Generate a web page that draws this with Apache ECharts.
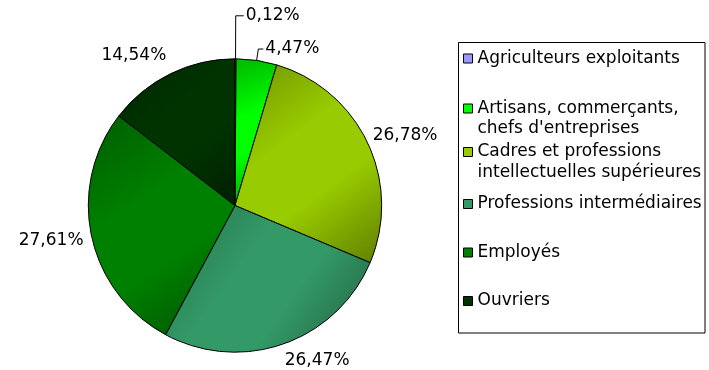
<!DOCTYPE html>
<html>
<head>
<meta charset="utf-8">
<style>
  html, body { margin: 0; padding: 0; background: #ffffff; }
  #chart { width: 709px; height: 370px; }
</style>
<script src="https://cdn.jsdelivr.net/npm/echarts@6/dist/echarts.min.js"></script>
</head>
<body>
<div id="chart"></div>
<script>
// Socio-professional categories (legend order = slice order, clockwise from 12 o'clock)
const categories = [
  'Agriculteurs exploitants',
  'Artisans, commerçants,\nchefs d\'entreprises',
  'Cadres et professions\nintellectuelles supérieures',
  'Professions intermédiaires',
  'Employés',
  'Ouvriers'
];

// Share of each category, in percent
const shares = [0.12, 4.47, 26.78, 26.47, 27.61, 14.54];

// Fill colour of each category
const sliceColors = ['#9999FF', '#00FF00', '#99CC00', '#339966', '#008000', '#003300'];

// Leader lines for the two narrow slices at the top; the others carry no line
const leaderLines = [
  { length: 43, length2: 8 },
  { length: 11.5, length2: 5 },
  null, null, null, null
];

// Small nudges for the labels that sit next to the rim without a leader line
const labelNudges = [
  {}, {},
  { dx: 3, dy: -7 },
  { dx: -1, dy: 17 },
  { dx: -6, dy: 4.5 },
  { dx: -2, dy: -18 }
];

// Vertical centre of each legend marker
const legendRows = [58.5, 108.5, 152, 204, 252.5, 301];

const FONT = 'DejaVu Sans';
const LEGEND_LINE = 20.5;

function shade(hex, f) {
  const n = parseInt(hex.slice(1), 16);
  const r = Math.round(((n >> 16) & 255) * f);
  const g = Math.round(((n >> 8) & 255) * f);
  const b = Math.round((n & 255) * f);
  return 'rgb(' + r + ',' + g + ',' + b + ')';
}

// Diagonal light-to-dark shading inside each slice
function sliceFill(hex) {
  return {
    type: 'linear', x: 0, y: 0, x2: 1, y2: 1,
    colorStops: [
      { offset: 0, color: shade(hex, 0.72) },
      { offset: 0.38, color: hex },
      { offset: 0.62, color: hex },
      { offset: 1, color: shade(hex, 0.62) }
    ]
  };
}

const pieData = categories.map(function (name, i) {
  const line = leaderLines[i];
  return {
    name: name,
    value: shares[i],
    itemStyle: { color: sliceFill(sliceColors[i]) },
    labelLine: line
      ? { show: true, length: line.length, length2: line.length2 }
      : { show: false, length: 0, length2: 0 }
  };
});

// One legend block per entry so that each row can sit at its own height.
// A two-line entry gets an empty line on top, so its marker (centred on
// the text block) lines up with the first line of the name.
const legends = categories.map(function (name, i) {
  const twoLines = name.indexOf('\n') >= 0;
  return {
    show: true,
    orient: 'vertical',
    left: 463,
    top: legendRows[i] - (twoLines ? 1.5 : 0.5) * LEGEND_LINE,
    padding: 0,
    itemWidth: 9,
    itemHeight: 9,
    selectedMode: false,
    formatter: function (n) { return twoLines ? '\n' + n : n; },
    data: [{
      name: name,
      icon: 'rect',
      itemStyle: { color: sliceColors[i], borderColor: '#000', borderWidth: 1 }
    }],
    textStyle: {
      fontFamily: FONT,
      fontSize: 17,
      color: '#000',
      lineHeight: LEGEND_LINE
    }
  };
});

const chart = echarts.init(document.getElementById('chart'), null, { renderer: 'canvas' });

chart.setOption({
  animation: false,
  backgroundColor: '#ffffff',
  legend: legends,
  graphic: [{
    type: 'rect',
    shape: { x: 458.5, y: 42.5, width: 246.5, height: 290.5 },
    style: { fill: 'none', stroke: '#000', lineWidth: 1 },
    silent: true,
    z: 0
  }],
  series: [{
    type: 'pie',
    center: [235, 205.5],
    radius: 146.7,
    startAngle: 90,
    clockwise: true,
    avoidLabelOverlap: false,
    minAngle: 0,
    emphasis: { disabled: true },
    itemStyle: { borderColor: '#000', borderWidth: 1 },
    label: {
      show: true,
      position: 'outside',
      fontFamily: FONT,
      fontSize: 17,
      color: '#000',
      distanceToLabelLine: 2,
      formatter: function (p) {
        return p.value.toFixed(2).replace('.', ',') + '%';
      }
    },
    labelLine: {
      show: true,
      length: 0,
      length2: 0,
      smooth: false,
      lineStyle: { color: '#000', width: 1 }
    },
    labelLayout: function (p) {
      return labelNudges[p.dataIndex];
    },
    data: pieData
  }]
});
</script>
</body>
</html>
